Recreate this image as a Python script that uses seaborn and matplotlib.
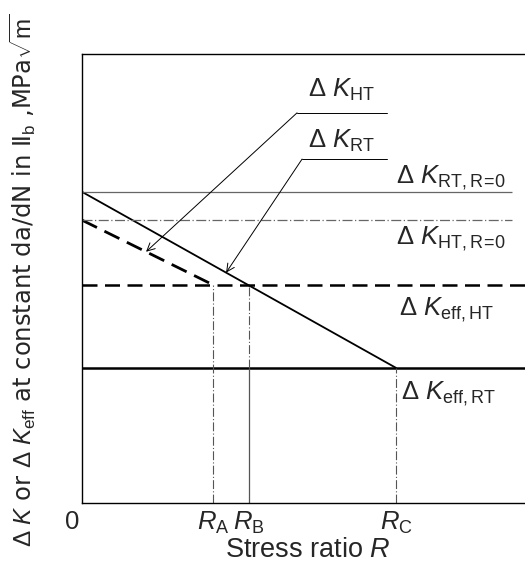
import matplotlib
matplotlib.use("Agg")
import matplotlib.pyplot as plt
import matplotlib.transforms as mtransforms
import seaborn as sns
import pandas as pd

# ---- data (schematic units) ----
R_labels = ["0", "$R_{\\mathrm{A}}$", "$R_{\\mathrm{B}}$", "$R_{\\mathrm{C}}$"]
R_A, R_B, R_C = 0.417, 0.532, 1.0
R_ticks = [0.0, R_A, R_B, R_C]
K_RT0 = 0.693      # Delta K_RT at R=0
K_HT0 = 0.630      # Delta K_HT at R=0
K_effHT = 0.486
K_effRT = 0.301
X_MAX = 1.411

rt_R = [0.0, R_C]
rt_K = [K_RT0, K_effRT]
ht_R = [0.0, R_A]
ht_K = [K_HT0, K_effHT]

sns.set_theme(style="white")
plt.rcParams['font.family'] = ['Liberation Sans', 'DejaVu Sans']
plt.rcParams['mathtext.fontset'] = 'custom'
plt.rcParams['mathtext.rm'] = 'Liberation Sans'
plt.rcParams['mathtext.it'] = 'Liberation Sans:italic'
plt.rcParams['mathtext.bf'] = 'Liberation Sans:bold'

fig = plt.figure(figsize=(5.25, 5.68), dpi=100)
ax = fig.add_axes([82/525, 65/568, 443/525, 449/568])

df_rt = pd.DataFrame({"R": rt_R, "K": rt_K})
df_ht = pd.DataFrame({"R": ht_R, "K": ht_K})
sns.lineplot(data=df_rt, x="R", y="K", ax=ax, color="black", lw=1.3)
sns.lineplot(data=df_ht, x="R", y="K", ax=ax, color="black", lw=2.0,
             linestyle=(0, (6, 3)))

# horizontal reference lines
ax.hlines(K_RT0, 0, 1.37, color="#666666", lw=0.9)
ax.hlines(K_HT0, 0, 1.37, color="#666666", lw=0.9, linestyles=[(0, (8, 2, 1, 2))])
ax.hlines(K_effHT, 0, X_MAX, color="black", lw=1.8, linestyles=[(0, (6, 3))])
ax.hlines(K_effRT, 0, X_MAX, color="black", lw=1.8)

# vertical reference lines
dd = [(0, (8, 2, 1, 2))]
ax.vlines(R_A, 0, K_effHT, color="#555555", lw=0.8, linestyles=dd)
ax.vlines(R_B, K_effRT, K_effHT, color="#555555", lw=0.8, linestyles=dd)
ax.vlines(R_B, 0, K_effRT, color="#555555", lw=0.9)
ax.vlines(R_C, 0, K_effRT, color="#555555", lw=0.8, linestyles=dd)

# leader lines with arrows
ht_tip_x = 0.204
rt_tip_x = 0.459
ht_tip_y = K_HT0 + (K_effHT - K_HT0) / R_A * ht_tip_x
rt_tip_y = K_RT0 + (K_effRT - K_RT0) / R_C * rt_tip_x
ax.plot([0.685, 0.971], [0.869, 0.869], color="black", lw=0.7)
ax.annotate("", xy=(ht_tip_x, ht_tip_y), xytext=(0.685, 0.869),
            arrowprops=dict(arrowstyle="->", color="black", lw=0.7,
                            mutation_scale=14, shrinkA=0, shrinkB=0))
ax.plot([0.701, 0.971], [0.766, 0.766], color="black", lw=0.7)
ax.annotate("", xy=(rt_tip_x, rt_tip_y), xytext=(0.701, 0.766),
            arrowprops=dict(arrowstyle="->", color="black", lw=0.7,
                            mutation_scale=14, shrinkA=0, shrinkB=0))

fs = 18.5
ax.text(0.72, 0.905, r"$\Delta\ K_{\mathrm{HT}}$", fontsize=fs, va="baseline")
ax.text(0.72, 0.79, r"$\Delta\ K_{\mathrm{RT}}$", fontsize=fs, va="baseline")
ax.text(1.0, 0.712, r"$\Delta\ K_{\mathrm{RT,R\!=\!0}}$", fontsize=fs, va="baseline")
ax.text(1.0, 0.577, r"$\Delta\ K_{\mathrm{HT,R\!=\!0}}$", fontsize=fs, va="baseline")
ax.text(1.01, 0.418, r"$\Delta\ K_{\mathrm{eff,HT}}$", fontsize=fs, va="baseline")
ax.text(1.015, 0.232, r"$\Delta\ K_{\mathrm{eff,RT}}$", fontsize=fs, va="baseline")

ax.set_xlim(0, X_MAX)
ax.set_ylim(0, 1)
ax.set_xticks(R_ticks)
ax.set_xticklabels(R_labels, fontsize=fs)
ax.set_yticks([])
ax.tick_params(axis="x", length=0, pad=5)
zero_lbl = ax.get_xticklabels()[0]
zero_lbl.set_transform(zero_lbl.get_transform() +
                       mtransforms.ScaledTranslation(-0.1, 0, fig.dpi_scale_trans))

ax.set_xlabel(r"Stress ratio $R$", fontsize=19.5, labelpad=1)
ax.xaxis.set_label_coords(0.51, -0.075)
ax.set_ylabel(r"$\Delta\ K$ or $\Delta\ K_{\mathrm{eff}}$ at constant da/dN in Ⅱ$_{\mathrm{b}}$ ,MPa$\sqrt{\mathrm{m}}$",
              fontsize=17.5, family=['DejaVu Sans'])
ax.yaxis.set_label_coords(-0.10, 0.497)

for s in ["left", "top", "bottom"]:
    ax.spines[s].set_visible(True)
    ax.spines[s].set_color("black")
    ax.spines[s].set_linewidth(1.0)
ax.spines["right"].set_visible(False)

fig.savefig("out.png", dpi=100, facecolor="white")
